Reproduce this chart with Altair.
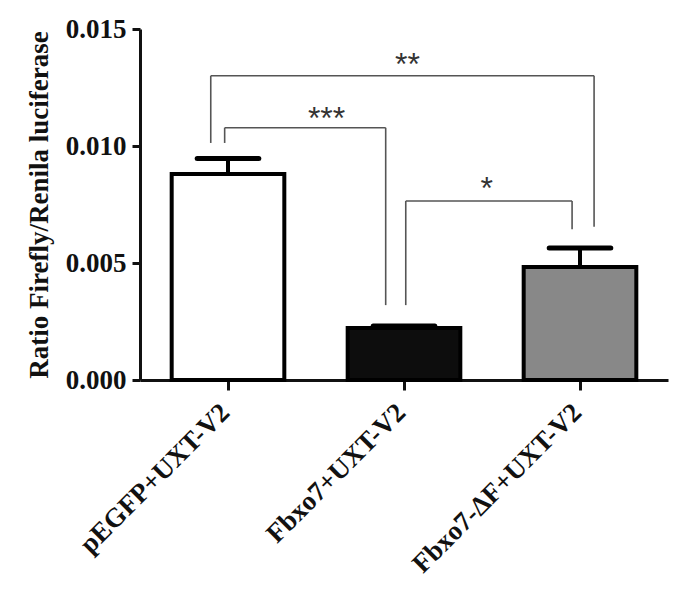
import json
import altair as alt
import pandas as pd

# ---- data ----
categories = ["pEGFP+UXT-V2", "Fbxo7+UXT-V2", "Fbxo7-ΔF+UXT-V2"]
means = [0.0088, 0.00222, 0.00483]
sems = [0.00067, 0.00009, 0.00081]
fills = ["#ffffff", "#0d0d0d", "#888888"]

# significance brackets (x in category-index units, y in data units)
br_left_x = [-0.098, -0.019, 1.01]
br_right_x = [2.08, 0.896, 1.955]
br_top = [0.0130, 0.01078, 0.00765]
br_left_bottom = [0.01013, 0.01013, 0.0032]
br_right_bottom = [0.00655, 0.0032, 0.00644]
br_label = ["**", "***", "*"]
br_label_x = [1.02, 0.56, 1.47]
br_label_y = [0.0134, 0.0111, 0.0081]

BAR_HALF = 0.32
CAP_HALF = 0.175
SERIF = "Liberation Serif"

bars = pd.DataFrame({
    "idx": list(range(len(categories))),
    "cat": categories,
    "mean": means,
    "sem": sems,
    "fill": fills,
})
bars["x0"] = bars["idx"] - BAR_HALF
bars["x1"] = bars["idx"] + BAR_HALF
bars["c0"] = bars["idx"] - CAP_HALF
bars["c1"] = bars["idx"] + CAP_HALF
bars["top"] = bars["mean"] + bars["sem"]

brk = pd.DataFrame({
    "lx": br_left_x, "rx": br_right_x, "top": br_top,
    "lb": br_left_bottom, "rb": br_right_bottom,
    "label": br_label, "tx": br_label_x, "ty": br_label_y,
})

label_expr = json.dumps(categories) + "[datum.value]"

xscale = alt.Scale(domain=[-0.5, 2.5], nice=False, zero=False)
yscale = alt.Scale(domain=[0, 0.015], nice=False)

xaxis = alt.Axis(
    values=[0, 1, 2], labelExpr=label_expr, title=None, grid=False,
    labelAngle=315, labelAlign="right", labelBaseline="middle",
    labelFont=SERIF, labelFontWeight="bold", labelFontSize=27, labelColor="#111",
    labelPadding=18, labelOffset=-3, tickSize=10, tickWidth=3, tickColor="#111",
    domainWidth=3, domainColor="#111", labelOverlap=False, labelBound=False,
    labelLimit=500,
)
yaxis = alt.Axis(
    values=[0, 0.005, 0.010, 0.015], format=".3f", grid=False,
    title="Ratio Firefly/Renila luciferase", titleFont=SERIF, titleFontWeight="bold",
    titleFontSize=27, titleColor="#111", titlePadding=12,
    labelFont=SERIF, labelFontWeight="bold", labelFontSize=27, labelColor="#111",
    labelPadding=6, tickSize=8, tickWidth=3, tickColor="#111",
    domainWidth=3, domainColor="#111",
)

base = alt.Chart(bars)

bar_layer = base.mark_bar(stroke="black", strokeWidth=4).encode(
    x=alt.X("x0:Q", scale=xscale, axis=xaxis),
    x2="x1:Q",
    y=alt.Y("mean:Q", scale=yscale, axis=yaxis),
    y2=alt.datum(0),
    fill=alt.Fill("fill:N", scale=None),
)

err_stem = base.mark_rule(color="black", strokeWidth=4).encode(
    x="idx:Q", y="mean:Q", y2="top:Q",
)
err_cap = base.mark_rule(color="black", strokeWidth=5, strokeCap="round").encode(
    x="c0:Q", x2="c1:Q", y="top:Q",
)

bb = alt.Chart(brk)
br_style = dict(color="#555555", strokeWidth=1.6)
br_h = bb.mark_rule(**br_style).encode(x="lx:Q", x2="rx:Q", y="top:Q")
br_l = bb.mark_rule(**br_style).encode(x="lx:Q", y="lb:Q", y2="top:Q")
br_r = bb.mark_rule(**br_style).encode(x="rx:Q", y="rb:Q", y2="top:Q")
br_t = bb.mark_text(font="Liberation Sans", fontSize=32, color="#333333",
                    baseline="alphabetic", dy=9).encode(
    x="tx:Q", y="ty:Q", text="label:N",
)

chart = alt.layer(bar_layer, err_stem, err_cap, br_h, br_l, br_r, br_t).properties(
    width=528, height=351,
    autosize=alt.AutoSizeParams(type="none"),
    padding={"left": 132, "top": 21, "right": 5, "bottom": 200},
    background="white",
).configure_view(strokeWidth=0, stroke="transparent")

chart.save("out.html", embed_options={"renderer": "svg", "actions": False})
